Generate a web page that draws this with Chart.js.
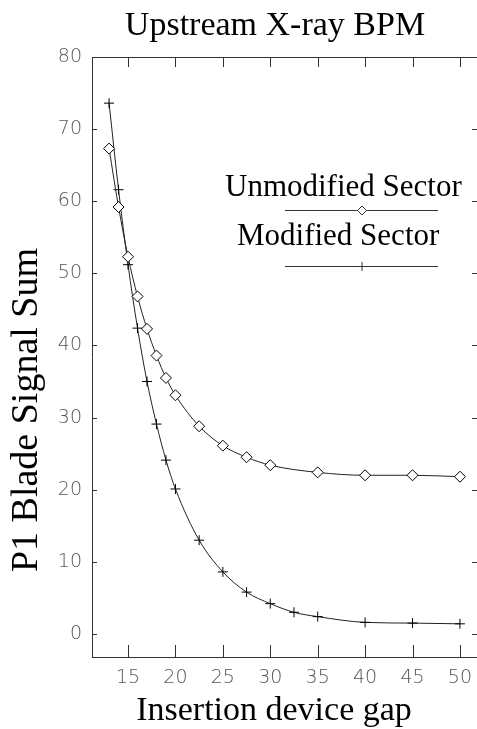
<!DOCTYPE html>
<html>
<head>
<meta charset="utf-8">
<script src="https://cdn.jsdelivr.net/npm/chart.js@4"></script>
<style>
html,body{margin:0;padding:0;background:#fff;}
canvas{display:block;}
</style>
</head>
<body>
<canvas id="bpmCvs" width="477" height="729"></canvas>
<script>
// data
const gapUnmod = [13, 14, 15, 16, 17, 18, 19, 20, 22.5, 25, 27.5, 30, 35, 40, 45, 50];
const sumUnmod = [67.3, 59.2, 52.3, 46.8, 42.3, 38.6, 35.5, 33.1, 28.8, 26.1, 24.5, 23.4, 22.4, 22.0, 22.0, 21.8];
const gapMod = [13, 14, 15, 16, 17, 18, 19, 20, 22.5, 25, 27.5, 30, 32.5, 35, 40, 45, 50];
const sumMod = [73.6, 61.6, 51.2, 42.4, 35.0, 29.1, 24.1, 20.1, 13.0, 8.6, 5.8, 4.2, 3.0, 2.4, 1.6, 1.5, 1.4];
const xTicks = [15, 20, 25, 30, 35, 40, 45, 50];
const yTicks = [0, 10, 20, 30, 40, 50, 60, 70, 80];

const serif = '"Liberation Serif", "Times New Roman", serif';
const ink = '#222';

// axes frame (inward ticks, top line), titles and the legend
const framePlugin = {
  id: 'frame',
  afterDraw(chart) {
    const {ctx, chartArea: a, scales: {x, y}} = chart;
    ctx.save();
    ctx.strokeStyle = '#333';
    ctx.lineWidth = 1;
    ctx.beginPath();
    ctx.moveTo(a.left, a.top + 0.5);
    ctx.lineTo(a.right, a.top + 0.5);
    xTicks.forEach(v => {
      const px = Math.round(x.getPixelForValue(v)) + 0.5;
      ctx.moveTo(px, a.top); ctx.lineTo(px, a.top + 10);
      ctx.moveTo(px, a.bottom); ctx.lineTo(px, a.bottom - 12);
    });
    yTicks.forEach(v => {
      const py = Math.round(y.getPixelForValue(v)) + 0.5;
      ctx.moveTo(a.left, py); ctx.lineTo(a.left + 5, py);
      ctx.moveTo(a.right, py); ctx.lineTo(a.right - 5, py);
    });
    ctx.stroke();

    ctx.fillStyle = '#000';
    ctx.textAlign = 'center';
    ctx.textBaseline = 'alphabetic';
    ctx.font = '34px ' + serif;
    ctx.fillText('Upstream X-ray BPM', 275, 35);
    ctx.fillText('Insertion device gap', 274, 720);
    ctx.save();
    ctx.translate(37, 410);
    ctx.rotate(-Math.PI / 2);
    ctx.font = '38px ' + serif;
    ctx.fillText('P1 Blade Signal Sum', 0, 0);
    ctx.restore();

    // legend
    const ds = chart.data.datasets;
    const rows = [{i: 0, tx: 225, ty: 196, ly: 210}, {i: 1, tx: 237, ty: 245, ly: 266}];
    ctx.font = '31px ' + serif;
    ctx.textAlign = 'left';
    rows.forEach(r => {
      ctx.fillStyle = '#000';
      ctx.fillText(ds[r.i].label, r.tx, r.ty);
      ctx.beginPath();
      ctx.moveTo(285, r.ly + 0.5);
      ctx.lineTo(438, r.ly + 0.5);
      ctx.stroke();
      ctx.fillStyle = '#fff';
      Chart.helpers.drawPoint(ctx, {pointStyle: ds[r.i].pointStyle, radius: 4.5, rotation: 0, borderWidth: 1}, 362, r.ly + 0.5);
    });
    ctx.restore();
  }
};

const toPts = (xs, ys) => xs.map((g, i) => ({x: g, y: ys[i]}));
const tickFont = {family: '"DejaVu Sans ExtraLight", "DejaVu Sans"', size: 19, weight: 200};

const cvs = document.getElementById('bpmCvs');
const bpmChart = new Chart(cvs.getContext('2d'), {
  type: 'line',
  data: {
    datasets: [{
      label: 'Unmodified Sector',
      data: toPts(gapUnmod, sumUnmod),
      borderColor: ink,
      borderWidth: 1,
      pointStyle: 'rectRot',
      pointRadius: 5.5,
      pointBackgroundColor: '#fff',
      pointBorderColor: '#000',
      pointBorderWidth: 1,
      cubicInterpolationMode: 'monotone'
    }, {
      label: 'Modified Sector',
      data: toPts(gapMod, sumMod),
      borderColor: ink,
      borderWidth: 1,
      pointStyle: 'cross',
      pointRadius: 5,
      pointBorderColor: '#000',
      pointBorderWidth: 1,
      cubicInterpolationMode: 'monotone'
    }]
  },
  options: {
    responsive: false,
    animation: false,
    layout: {autoPadding: false, padding: {top: 57, right: 0, left: 0, bottom: 0}},
    plugins: {legend: {display: false}, tooltip: {enabled: false}},
    scales: {
      x: {
        type: 'linear',
        min: 11.2,
        max: 51.8,
        afterBuildTicks: s => { s.ticks = xTicks.map(v => ({value: v})); },
        afterFit: s => { s.height = 72; s.paddingLeft = 0; s.paddingRight = 0; },
        grid: {display: false, drawTicks: false, tickLength: 0},
        border: {display: true, color: '#333', width: 1},
        ticks: {padding: 10, maxRotation: 0, color: '#555', font: tickFont}
      },
      y: {
        min: -3.2,
        max: 80,
        afterBuildTicks: s => { s.ticks = yTicks.map(v => ({value: v})); },
        afterFit: s => { s.width = 92; s.paddingTop = 0; s.paddingBottom = 0; },
        grid: {display: false, drawTicks: false, tickLength: 0},
        border: {display: true, color: '#333', width: 1},
        ticks: {padding: 10, color: '#555', font: tickFont}
      }
    }
  },
  plugins: [framePlugin]
});
</script>
</body>
</html>
